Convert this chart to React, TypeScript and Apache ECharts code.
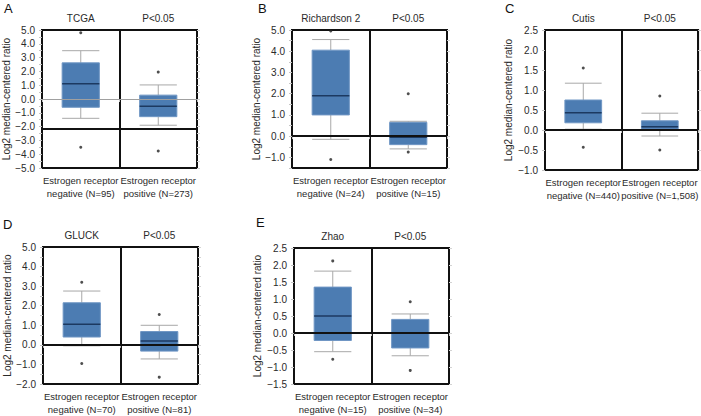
import React, { useEffect, useRef } from "react";
import * as echarts from "echarts";

const FONT = "'Liberation Sans', Arial, Helvetica, sans-serif";

// Panel metadata
const panelLetters = ["A", "B", "C", "D", "E"];
const datasetNames = ["TCGA", "Richardson 2", "Cutis", "GLUCK", "Zhao"];
const pValueLabel = "P<0.05";

// Categories
const categoriesA = ["Estrogen receptor\nnegative (N=95)", "Estrogen receptor\npositive (N=273)"];
const categoriesB = ["Estrogen receptor\nnegative (N=24)", "Estrogen receptor\npositive (N=15)"];
const categoriesC = ["Estrogen receptor\nnegative (N=440)", "Estrogen receptor\npositive (N=1,508)"];
const categoriesD = ["Estrogen receptor\nnegative (N=70)", "Estrogen receptor\npositive (N=81)"];
const categoriesE = ["Estrogen receptor\nnegative (N=15)", "Estrogen receptor\npositive (N=34)"];

// Box stats: [low whisker, Q1, median, Q3, high whisker]
const boxA = [[-1.4, -0.6, 1.1, 2.62, 3.5], [-1.9, -1.28, -0.52, 0.28, 1.02]];
const boxB = [[-0.15, 1.0, 1.9, 4.05, 4.55], [-0.6, -0.4, -0.05, 0.65, 0.7]];
const boxC = [[0.02, 0.18, 0.43, 0.75, 1.17], [-0.15, 0.02, 0.08, 0.23, 0.42]];
const boxD = [[-0.05, 0.4, 1.05, 2.15, 2.75], [-0.72, -0.32, 0.2, 0.68, 1.0]];
const boxE = [[-0.55, -0.22, 0.5, 1.35, 1.82], [-0.67, -0.44, 0.0, 0.4, 0.56]];

// Outliers: [category index, value]
const outliersA = [[0, 4.8], [0, -3.5], [1, 1.95], [1, -3.77]];
const outliersB = [[0, 4.95], [0, -1.1], [1, 2.0], [1, -0.75]];
const outliersC = [[0, 1.55], [0, -0.43], [1, 0.85], [1, -0.5]];
const outliersD = [[0, 3.2], [0, -0.95], [1, 1.55], [1, -1.65]];
const outliersE = [[0, 2.12], [0, -0.77], [1, 0.92], [1, -1.1]];

// Axis ranges and label steps
const yMinValues = [-5, -1.5, -1, -2, -1.5];
const yMaxValues = [5, 5, 2.5, 5, 2.5];
const yLabelSteps = [1, 1, 0.5, 1, 0.5];

// Reference lines: thick black line and (panel A) thin grey zero line
const thickLineValues = [-2.15, 0, 0, 0, 0];
const greyLineValues: (number | null)[] = [0, null, null, null, null];

const categoriesAll = [categoriesA, categoriesB, categoriesC, categoriesD, categoriesE];
const boxesAll = [boxA, boxB, boxC, boxD, boxE];
const outliersAll = [outliersA, outliersB, outliersC, outliersD, outliersE];

// Layout (positions only)
const grids = [
  { left: 42, top: 30, width: 155, height: 138, nameGap: 30 },
  { left: 292, top: 30, width: 155, height: 138, nameGap: 30 },
  { left: 545, top: 30, width: 155, height: 140, nameGap: 32 },
  { left: 43, top: 247, width: 155, height: 140, nameGap: 30 },
  { left: 294, top: 248, width: 155, height: 138, nameGap: 32 },
];
const letterPos = [
  [4, 2], [258, 2], [505, 2], [3, 218], [256, 216],
];

const BOX_FILL = "#4c7cb2";
const BOX_STROKE = "#6f96c4";
const MEDIAN = "#1c3960";
const WHISKER = "#a8a8a8";
const TEXT = "#2a2a2a";

function fmt(v: number, step: number) {
  if (step === 1 && Math.abs(v - Math.round(v)) > 1e-6) return "";
  const s = Math.abs(v).toFixed(1);
  return v < -1e-9 ? "\u2212" + s : s;
}

function renderBox(params: any, api: any) {
  const x = api.value(0);
  const low = api.coord([x, api.value(1)]);
  const q1 = api.coord([x, api.value(2)]);
  const med = api.coord([x, api.value(3)]);
  const q3 = api.coord([x, api.value(4)]);
  const high = api.coord([x, api.value(5)]);
  const w = api.size([1, 0])[0] * 0.48;
  const cx = low[0];
  const half = w / 2;
  const ws = { stroke: WHISKER, lineWidth: 1 };
  return {
    type: "group",
    children: [
      { type: "line", shape: { x1: cx, y1: high[1], x2: cx, y2: q3[1] }, style: ws },
      { type: "line", shape: { x1: cx - half, y1: high[1], x2: cx + half, y2: high[1] }, style: ws },
      { type: "line", shape: { x1: cx, y1: q1[1], x2: cx, y2: low[1] }, style: ws },
      { type: "line", shape: { x1: cx - half, y1: low[1], x2: cx + half, y2: low[1] }, style: ws },
      {
        type: "rect",
        shape: { x: cx - half, y: q3[1], width: w, height: q1[1] - q3[1] },
        style: { fill: BOX_FILL, stroke: BOX_STROKE, lineWidth: 1 },
      },
      {
        type: "line",
        shape: { x1: cx - half, y1: med[1], x2: cx + half, y2: med[1] },
        style: { stroke: MEDIAN, lineWidth: 1.5 },
      },
    ],
  };
}

export default function App() {
  const ref = useRef<HTMLDivElement>(null);
  useEffect(() => {
    if (!ref.current) return;
    const chart = echarts.init(ref.current, undefined, { renderer: "svg" });

    const gridOpts = grids.map((g) => ({
      left: g.left,
      top: g.top,
      width: g.width,
      height: g.height,
      show: true,
      borderColor: "#111",
      borderWidth: 2,
      backgroundColor: "transparent",
      containLabel: false,
    }));

    const xBottom = categoriesAll.map((cats, i) => ({
      type: "category",
      gridIndex: i,
      data: cats,
      position: "bottom",
      axisLine: { show: false },
      axisTick: { show: true, length: 3, lineStyle: { color: "#c4c4c4" } },
      splitLine: { show: true, lineStyle: { color: "#111", width: 2 } },
      axisLabel: {
        interval: 0,
        fontSize: 9.5,
        color: TEXT,
        lineHeight: 13,
        margin: 6,
        fontFamily: FONT,
        overflow: "none",
        hideOverlap: false,
      },
    }));
    const xTop = datasetNames.map((name, i) => ({
      type: "category",
      gridIndex: i,
      data: [name, pValueLabel],
      position: "top",
      axisLine: { show: false },
      axisTick: { show: false },
      splitLine: { show: false },
      axisLabel: { interval: 0, fontSize: 10, color: TEXT, margin: 7, fontFamily: FONT, overflow: "none" },
    }));

    const yLeft = grids.map((g, i) => ({
      type: "value",
      gridIndex: i,
      position: "left",
      min: yMinValues[i],
      max: yMaxValues[i],
      interval: 0.5,
      axisLine: { show: false },
      axisTick: { show: true, length: 3, lineStyle: { color: "#c4c4c4" } },
      splitLine: { show: false },
      axisLabel: {
        fontSize: 10,
        color: TEXT,
        margin: 7,
        fontFamily: FONT,
        formatter: (v: number) => fmt(v, yLabelSteps[i]),
      },
      name: "Log2 median-centered ratio",
      nameLocation: "middle",
      nameGap: g.nameGap,
      nameTextStyle: { fontSize: 10, color: TEXT, fontFamily: FONT },
    }));
    const yRight = grids.map((g, i) => ({
      type: "value",
      gridIndex: i,
      position: "right",
      min: yMinValues[i],
      max: yMaxValues[i],
      interval: 0.5,
      axisLine: { show: false },
      axisTick: { show: true, length: 3, lineStyle: { color: "#d4d4d4" } },
      splitLine: { show: false },
      axisLabel: { show: false },
    }));

    const series: any[] = [];
    boxesAll.forEach((boxes, i) => {
      series.push({
        type: "custom",
        xAxisIndex: i,
        yAxisIndex: i,
        data: boxes.map((b, k) => [k, ...b]),
        encode: { x: 0, y: [1, 2, 3, 4, 5] },
        renderItem: renderBox,
        z: 2,
        silent: true,
      });
      const mlData: any[] = [];
      const grey = greyLineValues[i];
      if (grey !== null) {
        mlData.push({ yAxis: grey, lineStyle: { color: "#a0a0a0", width: 1, type: "solid" } });
      }
      mlData.push({ yAxis: thickLineValues[i], lineStyle: { color: "#111", width: 2, type: "solid" } });
      series.push({
        type: "scatter",
        xAxisIndex: i,
        yAxisIndex: i,
        data: outliersAll[i],
        symbolSize: 3,
        itemStyle: { color: "#222" },
        z: 4,
        silent: true,
        markLine: {
          silent: true,
          symbol: "none",
          label: { show: false },
          data: mlData,
        },
      });
    });

    const graphic = panelLetters.map((L, i) => ({
      type: "text",
      left: letterPos[i][0],
      top: letterPos[i][1],
      style: { text: L, font: `13px ${FONT}`, fill: "#111" },
    }));

    chart.setOption({
      animation: false,
      backgroundColor: "#ffffff",
      textStyle: { fontFamily: FONT },
      grid: gridOpts,
      xAxis: [...xBottom, ...xTop],
      yAxis: [...yLeft, ...yRight],
      series,
      graphic,
    });
    return () => chart.dispose();
  }, []);

  return (
    <div
      ref={ref}
      style={{ position: "absolute", left: 0, top: 0, width: 701, height: 416, background: "#fff" }}
    />
  );
}
